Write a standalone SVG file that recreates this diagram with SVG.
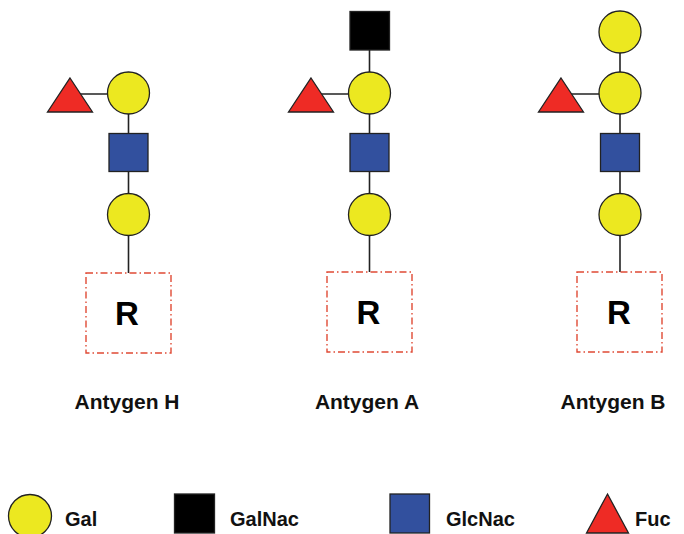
<svg xmlns="http://www.w3.org/2000/svg" width="684" height="534" viewBox="0 0 684 534">
<style>
.gal{fill:#ece820;stroke:#222;stroke-width:1.3}
.glc{fill:#32509e;stroke:#222;stroke-width:1.3}
.gna{fill:#000;stroke:#222;stroke-width:1.3}
.fuc{fill:#ee2b25;stroke:#222;stroke-width:1.3}
.link{stroke:#222;stroke-width:1.6;fill:none}
.rbox{fill:none;stroke:#e04a35;stroke-width:1.4;stroke-dasharray:7 3 1.5 3}
.r{font-family:"Liberation Sans",Arial,sans-serif;font-weight:bold;font-size:33px;fill:#000;text-anchor:middle}
.lab{font-family:"Liberation Sans",Arial,sans-serif;font-weight:bold;font-size:21px;fill:#111;text-anchor:middle}
.leg{font-family:"Liberation Sans",Arial,sans-serif;font-weight:bold;font-size:20px;fill:#111}
</style>
<g id="connectors">
<line class="link" x1="70" y1="94" x2="128.5" y2="94"/>
<line class="link" x1="128.5" y1="94" x2="128.5" y2="273"/>
<line class="link" x1="311" y1="94" x2="369.5" y2="94"/>
<line class="link" x1="369.5" y1="31" x2="369.5" y2="272"/>
<line class="link" x1="561" y1="94" x2="620" y2="94"/>
<line class="link" x1="620" y1="32" x2="620" y2="272"/>
</g>
<g id="antigen-H">
<polygon id="H-fuc" class="fuc" points="70,78 92.5,112 47.5,112"/>
<circle id="H-gal1" class="gal" cx="128.5" cy="93" r="21"/>
<rect id="H-glcnac" class="glc" x="109" y="133.5" width="39" height="38"/>
<circle id="H-gal2" class="gal" cx="128.5" cy="214.5" r="21"/>
<g id="H-R"><rect class="rbox" x="86" y="273" width="85" height="80"/><text class="r" x="127" y="325">R</text></g>
<text class="lab" x="127" y="409">Antygen H</text>
</g>
<g id="antigen-A">
<rect id="A-galnac" class="gna" x="350" y="11.5" width="39.5" height="38.5"/>
<polygon id="A-fuc" class="fuc" points="311,78 333.5,112 288.5,112"/>
<circle id="A-gal1" class="gal" cx="369.5" cy="93" r="21"/>
<rect id="A-glcnac" class="glc" x="350" y="133.5" width="39" height="38"/>
<circle id="A-gal2" class="gal" cx="369.5" cy="214.5" r="21"/>
<g id="A-R"><rect class="rbox" x="327" y="272" width="85" height="80"/><text class="r" x="368.5" y="324">R</text></g>
<text class="lab" x="367" y="409">Antygen A</text>
</g>
<g id="antigen-B">
<circle id="B-gal0" class="gal" cx="620" cy="32" r="21"/>
<polygon id="B-fuc" class="fuc" points="561,78 583.5,112 538.5,112"/>
<circle id="B-gal1" class="gal" cx="620" cy="93" r="21"/>
<rect id="B-glcnac" class="glc" x="600.5" y="133.5" width="39" height="38"/>
<circle id="B-gal2" class="gal" cx="620" cy="214.5" r="21"/>
<g id="B-R"><rect class="rbox" x="577" y="272" width="85" height="80"/><text class="r" x="619" y="324">R</text></g>
<text class="lab" x="613" y="409">Antygen B</text>
</g>
<g id="legend">
<g id="leg-gal"><circle class="gal" cx="30" cy="516" r="21.5"/><text class="leg" x="65" y="526">Gal</text></g>
<g id="leg-galnac"><rect class="gna" x="174.5" y="494" width="40" height="39"/><text class="leg" x="230" y="526">GalNac</text></g>
<g id="leg-glcnac"><rect class="glc" x="390" y="494" width="39.5" height="39"/><text class="leg" x="446" y="526">GlcNac</text></g>
<g id="leg-fuc"><polygon class="fuc" points="607.5,494 628.5,533 586.5,533"/><text class="leg" x="635" y="526">Fuc</text></g>
</g>
</svg>
